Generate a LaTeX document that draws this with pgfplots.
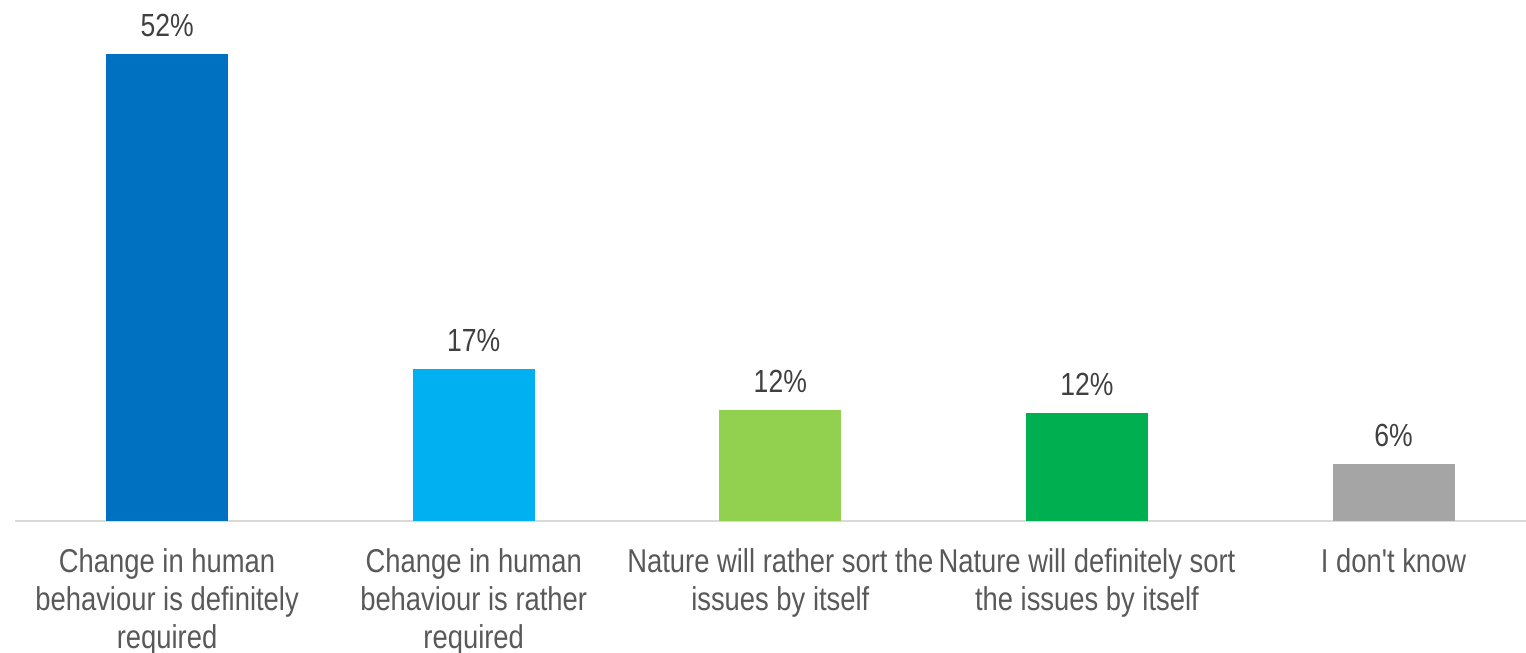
\documentclass[border=0pt]{standalone}
\usepackage{pgfplots}
\pgfplotsset{compat=1.18}
\usepackage{fontspec}
\setmainfont{Liberation Sans}[FakeStretch=0.83, Ligatures=TeXOff]
\definecolor{c1}{HTML}{0070C0}
\definecolor{c2}{HTML}{00B0F0}
\definecolor{c3}{HTML}{92D050}
\definecolor{c4}{HTML}{00B050}
\definecolor{c5}{HTML}{A5A5A5}
\definecolor{lbl}{HTML}{595959}
\definecolor{val}{HTML}{404040}
\definecolor{axl}{HTML}{D9D9D9}
\begin{document}
\begin{tikzpicture}
\useasboundingbox (0,0) rectangle (763pt,326.5pt);
\begin{axis}[
  at={(7.5pt,66pt)}, anchor=south west,
  scale only axis, width=755.5pt, height=233.5pt,
  xmin=-0.496, xmax=4.432, ymin=0, ymax=52,
  axis x line*=bottom, axis y line=none,
  x axis line style={draw=axl, line width=1pt, -},
  xtick={0,1,2,3,4},
  xtick style={draw=none},
  xticklabels={{Change in human\\behaviour is definitely\\required},
               {Change in human\\behaviour is rather\\required},
               {Nature will rather sort the\\issues by itself},
               {Nature will definitely sort\\the issues by itself},
               {I don't know}},
  xticklabel style={align=center, font=\fontsize{16.5pt}{19pt}\selectfont, text=lbl, anchor=north, yshift=-6pt},
  ytick=\empty,
  ybar, bar width=61pt, bar shift=0pt,
  clip=false,
  nodes near coords,
  every node near coord/.append style={anchor=south, inner sep=0pt, yshift=8.5pt, font=\fontsize{16pt}{19pt}\selectfont, text=val},
]
\addplot[fill=c1, draw=none, nodes near coords={52\%}] coordinates {(0,52)};
\addplot[fill=c2, draw=none, nodes near coords={17\%}] coordinates {(1,16.9)};
\addplot[fill=c3, draw=none, nodes near coords={12\%}] coordinates {(2,12.4)};
\addplot[fill=c4, draw=none, nodes near coords={12\%}] coordinates {(3,12.05)};
\addplot[fill=c5, draw=none, nodes near coords={6\%}] coordinates {(4,6.3)};
\end{axis}
\end{tikzpicture}
\end{document}
